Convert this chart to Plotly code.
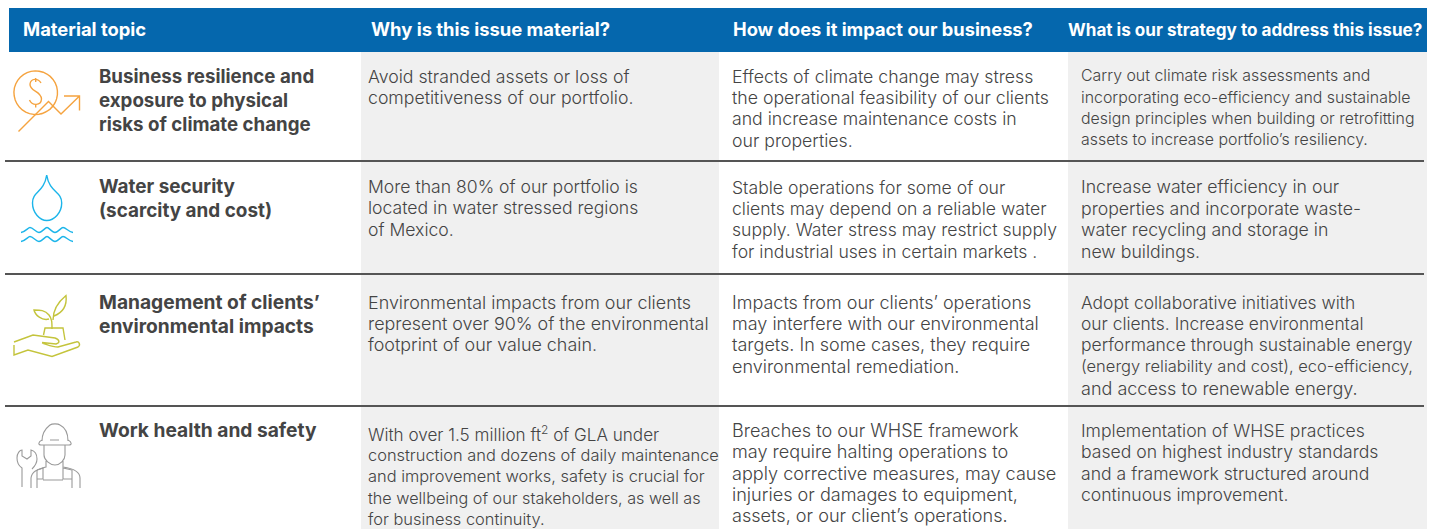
import math
import plotly.graph_objects as go

# ---------- table content ----------
headers = ["Material topic", "Why is this issue material?", "How does it impact our business?",
           "What is our strategy to address this issue?"]
topics = [
    ["Business resilience and", "exposure to physical", "risks of climate change"],
    ["Water security", "(scarcity and cost)"],
    ["Management of clients’", "environmental impacts"],
    ["Work health and safety"],
]
why = [
    ["Avoid stranded assets or loss of", "competitiveness of our portfolio."],
    ["More than 80% of our portfolio is", "located in water stressed regions", "of Mexico."],
    ["Environmental impacts from our clients", "represent over 90% of the environmental", "footprint of our value chain."],
    ["With over 1.5 million ft<sup>2</sup> of GLA under", "construction and dozens of daily maintenance",
     "and improvement works, safety is crucial for", "the wellbeing of our stakeholders, as well as",
     "for business continuity."],
]
impact = [
    ["Effects of climate change may stress", "the operational feasibility of our clients",
     "and increase maintenance costs in", "our properties."],
    ["Stable operations for some of our", "clients may depend on a reliable water",
     "supply. Water stress may restrict supply", "for industrial uses in certain markets ."],
    ["Impacts from our clients’ operations", "may interfere with our environmental",
     "targets. In some cases, they require", "environmental remediation."],
    ["Breaches to our WHSE framework", "may require halting operations to",
     "apply corrective measures, may cause", "injuries or damages to equipment,",
     "assets, or our client’s operations."],
]
strategy = [
    ["Carry out climate risk assessments and", "incorporating eco-efficiency and sustainable",
     "design principles when building or retrofitting", "assets to increase portfolio’s resiliency."],
    ["Increase water efficiency in our", "properties and incorporate waste-",
     "water recycling and storage in", "new buildings."],
    ["Adopt collaborative initiatives with", "our clients. Increase environmental",
     "performance through sustainable energy", "(energy reliability and cost), eco-efficiency,",
     "and access to renewable energy."],
    ["Implementation of WHSE practices", "based on highest industry standards",
     "and a framework structured around", "continuous improvement."],
]

# ---------- layout ----------
BLUE, BAND, RULE, INK = "#0567ad", "#f0f0f0", "#555555", "#444444"
FONT = "Inter"
row_rules = [161, 274, 406]
topic_y = [[76, 100, 124], [186, 210], [302, 326], [430]]
why_y = [[76, 97], [186, 207, 229], [302, 323, 344], [433, 455, 476, 498, 519]]
impact_y = [[76, 97, 118, 140], [187, 208, 229, 251], [302, 323, 344, 366], [430, 451, 473, 494, 515]]
strategy_y = [[75, 97, 118, 139], [186, 208, 229, 251], [302, 323, 344, 366, 388], [430, 451, 473, 494]]
topic_sizes = [18.7, 18.9, 19.2, 19.2]
why_sizes = [[17.7], [17.6], [17.9], [17.1, 16.4, 16.4, 16.2, 16.4]]
impact_sizes = [[17.7], [17.6], [18], [18.1]]
strategy_sizes = [[15.9], [17.7], [17.4, 17.4, 17.5, 16.5, 18], [17.6]]

fig = go.Figure()
shapes, notes = [], []


def rect(x0, y0, x1, y1, color):
    shapes.append(dict(type="rect", xref="x", yref="y", x0=x0, x1=x1, y0=y0, y1=y1,
                       fillcolor=color, line_width=0, layer="below"))


def label(x, y, text, size, color=INK, weight=300):
    notes.append(dict(x=x - 1, y=y, xref="x", yref="y", text=text, showarrow=False, xanchor="left",
                      yanchor="middle", align="left", xshift=0, borderpad=0,
                      font=dict(family=FONT, size=size, color=color, weight=weight)))


def icon(path, color, width=1.4):
    shapes.append(dict(type="path", xref="x", yref="y", path=path, line=dict(color=color, width=width),
                       fillcolor="rgba(0,0,0,0)"))


def arc(cx, cy, r, a0, a1):
    pts = [(cx + r * math.cos(math.radians(a0 + (a1 - a0) * i / 40)),
            cy + r * math.sin(math.radians(a0 + (a1 - a0) * i / 40))) for i in range(41)]
    return "M " + " L ".join(f"{x:.1f} {y:.1f}" for x, y in pts)


rect(361, 52, 719, 529, BAND)
rect(1068, 52, 1427, 529, BAND)
rect(9, 8, 1427, 52, BLUE)
for y in row_rules:
    shapes.append(dict(type="line", xref="x", yref="y", x0=5, x1=1424, y0=y, y1=y,
                       line=dict(color=RULE, width=2)))

for x, text, size in zip([23, 371, 733, 1068], headers, [18.4, 18.4, 18.3, 17.1]):
    label(x, 29, text, size, "white", 700)
for lines, ys, size in zip(topics, topic_y, topic_sizes):
    for t, y in zip(lines, ys):
        label(99, y, t, size, INK, 700)
for column, ypos, x, sizes in [(why, why_y, 368, why_sizes), (impact, impact_y, 732, impact_sizes),
                               (strategy, strategy_y, 1081, strategy_sizes)]:
    for lines, ys, row_sizes in zip(column, ypos, sizes):
        for i, (t, y) in enumerate(zip(lines, ys)):
            label(x, y, t, row_sizes[i] if len(row_sizes) > 1 else row_sizes[0])

# ---------- icons (decorative line art) ----------
ORANGE, CYAN, OLIVE, GREY = "#f5a33f", "#1cb5ea", "#c4c43c", "#9a9a9a"
icon(arc(35.7, 92.7, 21.8, 20, 360 + 92), ORANGE)
icon("M 41 83 C 38 78 31 78 30 84 C 29.5 92 41 90 41.5 99 C 41 106 32 106 29.5 100 M 35.7 78 V 82 M 35.7 104 V 107.5", ORANGE)
icon("M 18.5 131.5 L 48.5 101.5 L 61 114 L 79.5 96 M 64 96 H 79.5 V 110.5", ORANGE)
icon("M 46.7 175 C 44 193 32.5 191 32.5 203 C 32.5 213 40 220.5 46.7 220.5 C 54 220.5 61.7 213 61.7 203 C 61.7 191 49.5 193 46.7 175 Z", CYAN)
for y in (228.5, 237.5):
    icon(f"M 21 {y+4} C 26 {y+3} 28 {y-1} 30 {y-1} C 33 {y-1} 36 {y+4} 39 {y+4} C 42 {y+4} 45 {y-1} 47 {y-1} C 49 {y-1} 52 {y+4} 55 {y+4} C 58 {y+4} 61 {y-1} 63 {y-1} C 66 {y-1} 68 {y+3} 73 {y+4}", CYAN)
icon("M 14 345 V 355 L 28 350 L 52 356.5 L 78 347 C 81 345 79 341 76 342 L 58 347 C 52 347 46 344 42 343 M 14 342 L 33 335 L 55 338 C 60 340 60 343 56 344 L 42 342.5", OLIVE)
icon("M 43.5 335 L 45 328 H 63 L 65 340 M 52 329 C 52 322 52 319 49 315 C 45 310 40 310 34 310 C 35 315 42 321 49 319 M 53 320 C 53 310 58 302 66 295.5 C 67 304 64 312 54 316", OLIVE)
icon("M 42 441 C 42 430 49 426 50 425 C 52 423.5 58 423.5 60 425 C 62 426 68 430 68 441 M 42 440 C 38 442 38 445 41 445 H 69 C 72 445 72 442 68 440 M 50 440 H 59", GREY, 1.1)
icon("M 44 445 V 455 C 44 460 50 465 55 465 C 60 465 65 460 65 455 V 445 M 46 461 V 467 C 40 469 32 470 31 478 V 488 M 63 461 V 467 C 70 468 80 471 80 478 V 488", GREY, 1.1)
icon("M 37 470 V 488 M 72 470 V 488 M 37 470 L 43 468 V 479 H 37 M 72 470 L 63 468 V 479 H 72 M 43 480 H 63", GREY, 1.1)
icon("M 22 487 V 468 C 19 466 17 462 17 458 C 17 453 20 450 22 450 V 456 L 27 459 L 31 456 V 450 C 35 451 37 455 37 459 C 37 464 34 467 32 469", GREY, 1.1)

fig.update_layout(width=1437, height=529, margin=dict(l=0, r=0, t=0, b=0), paper_bgcolor="white",
                  plot_bgcolor="white", showlegend=False, shapes=shapes, annotations=notes,
                  xaxis=dict(range=[0, 1437], visible=False, fixedrange=True),
                  yaxis=dict(range=[529, 0], visible=False, fixedrange=True))
fig.write_html("out.html", config=dict(displayModeBar=False),
               post_script="document.body.style.margin='0';document.body.style.overflow='hidden';")
